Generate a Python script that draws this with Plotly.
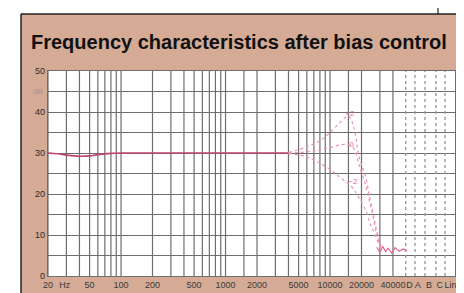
import math
import plotly.graph_objects as go

# ---------------- data ----------------
freq_common = [20, 25, 30, 40, 50, 60, 80, 100, 200, 500, 1000, 2000, 3000, 4000]
level_common = [30.0, 29.8, 29.5, 29.2, 29.3, 29.6, 29.9, 30.0, 30.0, 30.0, 30.0, 30.0, 30.0, 30.0]

freq_hi = [4000, 6000, 8000, 10000, 12500, 15000, 17000, 19000, 22000, 24000, 26000, 28000, 31000]
level_plus = [30.1, 31.5, 33.0, 35.0, 37.5, 39.0, 36.0, 29.0, 24.0, 19.0, 15.0, 11.0, 7.0]
level_zero = [30.0, 30.3, 30.8, 31.3, 32.0, 32.0, 31.0, 27.0, 22.0, 18.0, 14.0, 10.0, 6.5]
level_minus = [29.9, 29.0, 27.5, 26.0, 24.0, 22.5, 21.0, 19.0, 16.0, 13.0, 11.0, 9.0, 6.5]

freq_noise = [28000, 30000, 32000, 34000, 36000, 39000, 42000, 46000, 50000, 54000]
level_noise = [7.0, 5.8, 7.2, 5.9, 6.8, 5.6, 6.9, 6.0, 6.6, 6.2]

curve_labels = ["+2", "0", "\u22122"]
label_freq = [15500, 16000, 16500]
label_level = [39.5, 32.0, 23.0]

# chart paper grid
grid_freqs = ([20, 30, 40, 50, 60, 70, 80, 90, 100, 200, 300, 400, 500, 600, 700, 800, 900,
               1000, 1500, 2000, 3000, 4000, 5000, 6000, 7000, 8000, 9000,
               10000, 15000, 20000, 30000, 40000])
weight_cols = ["D", "A", "B", "C", "Lin"]
weight_col_freq = [53000, 65000, 81000, 103000, 126000]
weight_label_freq = [57500, 69000, 88500, 112000, 142000]

x_tick_vals = [20, 29, 50, 100, 200, 500, 1000, 2000, 5000, 10000, 20000, 40000] + weight_label_freq
x_tick_text = ["20", "Hz", "50", "100", "200", "500", "1000", "2000", "5000",
               "10000", "20000", "40000"] + weight_cols
y_tick_vals = [0, 5, 10, 15, 20, 25, 30, 35, 40, 45, 50]
y_tick_text = ["0", "", "10", "", "20", "", "30", "", "40", "", "50"]

# ---------------- figure ----------------
W, H = 464, 293
L, R, T, B = 40, 17, 63, 25
pw, ph = W - L - R, H - T - B
px_per_decade = 104.5


def xp(px):
    return (px - L) / pw


def yp(py):
    return (H - B - py) / ph


fig = go.Figure()

# vertical paper grid
gx, gy = [], []
for f in grid_freqs:
    gx += [f, f, None]
    gy += [0, 50, None]
fig.add_trace(go.Scatter(x=gx, y=gy, mode="lines", line=dict(color="#6e6e6e", width=1.2),
                         hoverinfo="skip", showlegend=False))
cx, cy = [], []
for f in weight_col_freq:
    cx += [f, f, None]
    cy += [0, 50, None]
fig.add_trace(go.Scatter(x=cx, y=cy, mode="lines", line=dict(color="#9a9a9a", width=1.4, dash="dot"),
                         hoverinfo="skip", showlegend=False))

# response curves
fig.add_trace(go.Scatter(x=freq_common, y=level_common, mode="lines",
                         line=dict(color="#c0426e", width=1.6, shape="spline"),
                         showlegend=False))
for lv in (level_plus, level_zero, level_minus):
    fig.add_trace(go.Scatter(x=freq_hi, y=lv, mode="lines",
                             line=dict(color="#eb94b4", width=1.2, dash="dot", shape="spline"),
                             showlegend=False))
fig.add_trace(go.Scatter(x=freq_noise, y=level_noise, mode="lines",
                         line=dict(color="#e0608c", width=1.1),
                         showlegend=False))
fig.add_trace(go.Scatter(x=label_freq, y=label_level, mode="text", text=curve_labels,
                         textfont=dict(size=8, color="#e07098", family="Liberation Sans"),
                         showlegend=False))

x0 = math.log10(20)
fig.update_xaxes(type="log", range=[x0, x0 + pw / px_per_decade],
                 tickvals=x_tick_vals, ticktext=x_tick_text, ticks="", tickangle=0,
                 tickfont=dict(size=9, color="#3a3a3a", family="Liberation Sans"),
                 showgrid=False, zeroline=False,
                 showline=True, mirror=True, linecolor="#6e6e6e", linewidth=1.2)
fig.update_yaxes(range=[0, 50], tickvals=y_tick_vals, ticktext=y_tick_text, ticks="",
                 tickfont=dict(size=9, color="#2a2a2a", family="Liberation Sans"),
                 showgrid=True, gridcolor="#6e6e6e", gridwidth=1.2, zeroline=False,
                 showline=True, mirror=True, linecolor="#6e6e6e", linewidth=1.2)

shapes = [
    dict(type="rect", xref="paper", yref="paper", x0=xp(-5), x1=xp(470), y0=yp(6), y1=yp(-5),
         fillcolor="white", line=dict(width=0), layer="below"),
    dict(type="rect", xref="paper", yref="paper", x0=xp(-5), x1=xp(13), y0=yp(300), y1=yp(-5),
         fillcolor="white", line=dict(width=0), layer="below"),
    dict(type="line", xref="paper", yref="paper", x0=xp(13), x1=xp(470), y0=yp(6), y1=yp(6),
         line=dict(color="#222222", width=1.5)),
    dict(type="line", xref="paper", yref="paper", x0=xp(13), x1=xp(13), y0=yp(6), y1=yp(300),
         line=dict(color="#222222", width=1.5)),
    dict(type="line", xref="paper", yref="paper", x0=xp(430), x1=xp(430), y0=yp(-2), y1=yp(6),
         line=dict(color="#222222", width=1.2)),
]

annotations = [
    dict(xref="paper", yref="paper", x=xp(21), y=yp(34), xanchor="left", yanchor="middle",
         text="<b>Frequency characteristics after bias control</b>", showarrow=False,
         font=dict(size=20, color="#111111", family="Liberation Sans")),
    dict(xref="paper", yref="y", x=xp(37), y=45, xanchor="right", yanchor="middle",
         text="dB", showarrow=False,
         font=dict(size=8, color="#a89090", family="Liberation Sans")),
]

fig.update_layout(width=W, height=H, autosize=False,
                  margin=dict(l=L, r=R, t=T, b=B, pad=0),
                  paper_bgcolor="#d5ab95", plot_bgcolor="white",
                  shapes=shapes, annotations=annotations, showlegend=False)

fig.write_html("out.html")
